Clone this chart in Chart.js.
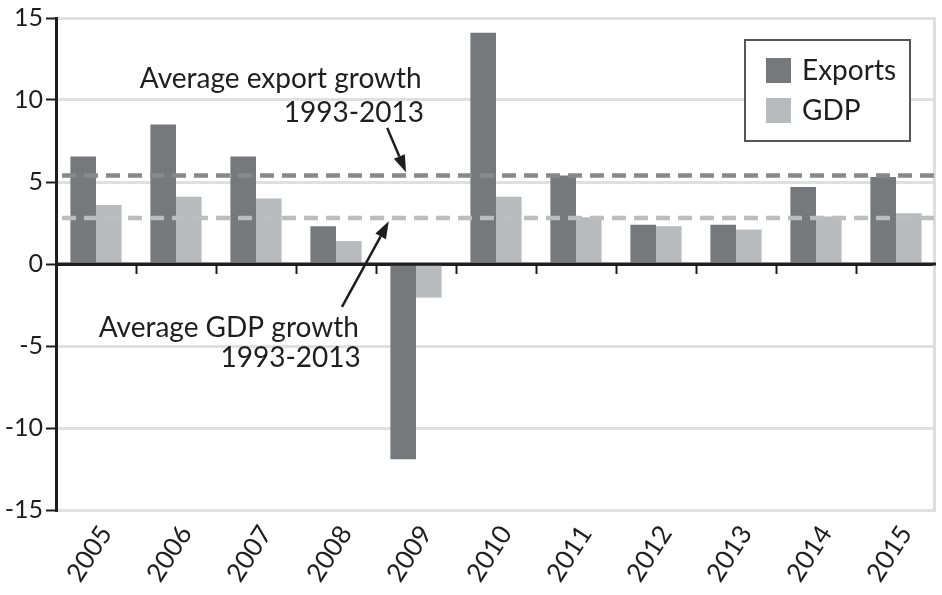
<!DOCTYPE html>
<html>
<head>
<meta charset="utf-8">
<script src="https://cdn.jsdelivr.net/npm/chart.js@4.4.0/dist/chart.umd.min.js"></script>
<style>
  html, body { margin: 0; padding: 0; background: #fff; }
  #wrap { width: 942px; height: 595px; }
</style>
</head>
<body>
<div id="wrap"><canvas id="chart" width="942" height="595"></canvas></div>
<script>
const FONT = 'Lato, "Noto Sans", sans-serif'
const DARK = '#77787c'
const LIGHT = '#b9babd'

// data
const years = ['2005', '2006', '2007', '2008', '2009', '2010', '2011', '2012', '2013', '2014', '2015']
const exportsGrowth = [6.55, 8.5, 6.55, 2.3, -11.9, 14.1, 5.4, 2.4, 2.4, 4.7, 5.3]
const gdpGrowth = [3.6, 4.1, 4.0, 1.4, -2.05, 4.1, 2.85, 2.3, 2.1, 2.9, 3.1]
const avgExportGrowth = 5.4
const avgGdpGrowth = 2.8
const yTicks = [-15, -10, -5, 0, 5, 10, 15]

// annotation texts, anchored in (category index, value) space
const notes = [
  { text: 'Average export growth', x: 2.31, y: 11.3, align: 'center' },
  { text: '1993-2013', x: 4.1, y: 9.2, align: 'right' },
  { text: 'Average GDP growth', x: 1.66, y: -3.9, align: 'center' },
  { text: '1993-2013', x: 3.31, y: -5.75, align: 'right' },
]
const arrows = [
  { from: [3.64, 8.3], to: [3.875, 5.6] },
  { from: [3.075, -2.62], to: [3.66, 2.6] },
]

const overlay = {
  id: 'overlay',
  afterDatasetsDraw(chart) {
    const { ctx, chartArea: a, scales: { x, y } } = chart
    const step = x.getPixelForValue(1) - x.getPixelForValue(0)
    const px = i => x.getPixelForValue(0) + i * step
    ctx.save()

    // right border
    ctx.strokeStyle = '#dedede'
    ctx.lineWidth = 3
    ctx.beginPath()
    ctx.moveTo(a.right - 1.5, a.top)
    ctx.lineTo(a.right - 1.5, a.bottom)
    ctx.stroke()

    // average lines
    ctx.setLineDash([14, 8])
    ctx.lineWidth = 4.5
    ctx.strokeStyle = '#88898c'
    ctx.beginPath()
    ctx.moveTo(a.left + 6, y.getPixelForValue(avgExportGrowth))
    ctx.lineTo(a.right - 2, y.getPixelForValue(avgExportGrowth))
    ctx.stroke()
    ctx.strokeStyle = '#bdbdbd'
    ctx.beginPath()
    ctx.moveTo(a.left + 6, y.getPixelForValue(avgGdpGrowth))
    ctx.lineTo(a.right - 2, y.getPixelForValue(avgGdpGrowth))
    ctx.stroke()
    ctx.setLineDash([])

    // zero line and category ticks
    const y0 = y.getPixelForValue(0)
    ctx.strokeStyle = '#1e1e1e'
    ctx.lineWidth = 3
    ctx.beginPath()
    ctx.moveTo(a.left, y0)
    ctx.lineTo(a.right, y0)
    ctx.stroke()
    ctx.lineWidth = 2
    for (let i = 1; i < years.length; i++) {
      const bx = Math.round(px(i - 0.5)) + 0.5
      ctx.beginPath()
      ctx.moveTo(bx, y0)
      ctx.lineTo(bx, y0 + 10)
      ctx.stroke()
    }

    // notes
    ctx.fillStyle = '#1e1e1e'
    ctx.font = '28px ' + FONT
    ctx.textBaseline = 'middle'
    notes.forEach(n => {
      ctx.textAlign = n.align
      ctx.fillText(n.text, px(n.x), y.getPixelForValue(n.y))
    })

    // arrows
    arrows.forEach(ar => {
      const x1 = px(ar.from[0]), y1 = y.getPixelForValue(ar.from[1])
      const x2 = px(ar.to[0]), y2 = y.getPixelForValue(ar.to[1])
      const ang = Math.atan2(y2 - y1, x2 - x1)
      const hl = 17, hw = 6
      ctx.lineWidth = 2.5
      ctx.beginPath()
      ctx.moveTo(x1, y1)
      ctx.lineTo(x2 - Math.cos(ang) * hl, y2 - Math.sin(ang) * hl)
      ctx.stroke()
      ctx.beginPath()
      ctx.moveTo(x2, y2)
      ctx.lineTo(x2 - Math.cos(ang) * hl - Math.sin(ang) * hw, y2 - Math.sin(ang) * hl + Math.cos(ang) * hw)
      ctx.lineTo(x2 - Math.cos(ang) * hl + Math.sin(ang) * hw, y2 - Math.sin(ang) * hl - Math.cos(ang) * hw)
      ctx.closePath()
      ctx.fill()
    })

    // legend box
    const lx = a.right - 191, ly = a.top + 22
    ctx.fillStyle = '#fff'
    ctx.fillRect(lx, ly, 165, 101)
    ctx.strokeStyle = '#555'
    ctx.lineWidth = 2
    ctx.strokeRect(lx, ly, 165, 101)
    chart.data.datasets.forEach((ds, i) => {
      const sy = ly + 18 + i * 40
      ctx.fillStyle = ds.backgroundColor
      ctx.fillRect(lx + 21, sy, 25, 25)
      ctx.fillStyle = '#1e1e1e'
      ctx.font = '28px ' + FONT
      ctx.textAlign = 'left'
      ctx.fillText(ds.label, lx + 57, sy + 13)
    })

    ctx.restore()
  }
}

new Chart(document.getElementById('chart'), {
  type: 'bar',
  data: {
    labels: years,
    datasets: [
      { label: 'Exports', data: exportsGrowth, backgroundColor: DARK },
      { label: 'GDP', data: gdpGrowth, backgroundColor: LIGHT },
    ]
  },
  options: {
    responsive: false,
    animation: false,
    devicePixelRatio: 1,
    layout: { padding: { top: 18, right: 6, left: 0, bottom: 0 } },
    datasets: { bar: { barPercentage: 1, categoryPercentage: 0.64 } },
    plugins: { legend: { display: false }, tooltip: { enabled: false } },
    scales: {
      x: {
        grid: { display: false },
        border: { display: false },
        ticks: {
          autoSkip: false, maxRotation: 57, minRotation: 57,
          color: '#1e1e1e', font: { family: FONT, size: 26 }, padding: 2,
          labelOffset: 10
        },
        afterFit: s => { s.height = 85 }
      },
      y: {
        min: -15, max: 15,
        afterBuildTicks: s => { s.ticks = yTicks.map(v => ({ value: v })) },
        ticks: { color: '#1e1e1e', font: { family: FONT, size: 25 }, padding: 3 },
        grid: {
          color: c => c.tick && c.tick.value === 0 ? '#1e1e1e' : '#e0e0e0',
          lineWidth: 3,
          tickColor: '#1e1e1e',
          tickLength: 10,
          tickWidth: 2
        },
        border: { color: '#1e1e1e', width: 3 },
        afterFit: s => { s.width = 56 }
      }
    }
  },
  plugins: [overlay]
})
</script>
</body>
</html>
